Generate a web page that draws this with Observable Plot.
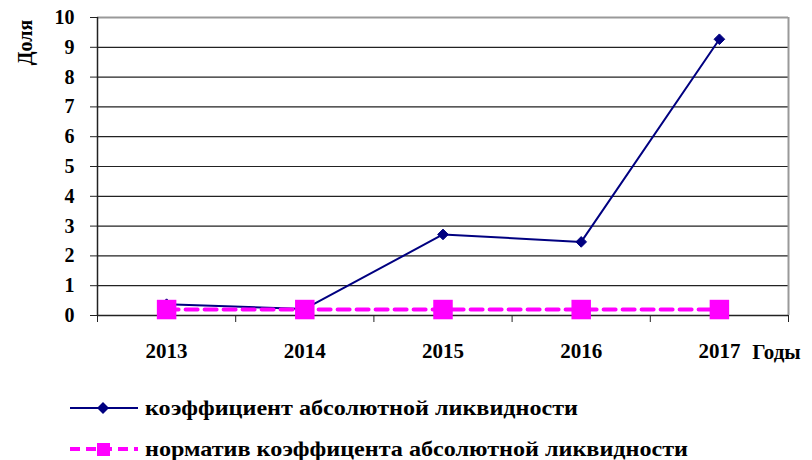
<!DOCTYPE html>
<html>
<head>
<meta charset="utf-8">
<script src="https://cdn.jsdelivr.net/npm/d3@7"></script>
<script src="https://cdn.jsdelivr.net/npm/@observablehq/plot@0.6"></script>
<style>
  html, body { margin: 0; padding: 0; background: #fff; }
  body { position: relative; width: 812px; height: 460px; overflow: hidden; font-family: "Times New Roman", Times, "Liberation Serif", "DejaVu Serif", "Noto Serif", serif; }
  #chart { position: absolute; left: 0; top: 0; }
  .leg { position: absolute; left: 70px; height: 28px; display: flex; align-items: center; font-weight: bold; font-size: 22px; line-height: 22px; white-space: nowrap; color: #000; }
  .leg svg { margin-right: 7px; flex: none; }
  .leg span { display: inline-block; transform-origin: left center; }
</style>
</head>
<body>
<div id="chart"></div>
<div class="leg" id="leg1" style="top:394px"></div>
<div class="leg" id="leg2" style="top:435px"></div>
<script>
const years = ["2013", "2014", "2015", "2016", "2017"];
const coefValues = [0.38, 0.22, 2.72, 2.47, 9.27];
const normValues = [0.2, 0.2, 0.2, 0.2, 0.2];
const yTicks = [0, 1, 2, 3, 4, 5, 6, 7, 8, 9, 10];
const seriesNames = ["коэффициент абсолютной ликвидности", "норматив коэффицента абсолютной ликвидности"];
const yLabel = "Доля";
const xLabel = "Годы";

const coefData = years.map((y, i) => ({i: i + 0.5, year: y, v: coefValues[i]}));
const normData = years.map((y, i) => ({i: i + 0.5, year: y, v: normValues[i]}));
const boundaries = d3.range(0, years.length + 1);
const centers = years.map((y, i) => i + 0.5);

const navy = "#000080";
const magenta = "#ff00ff";
const serif = "'Times New Roman', Times, 'Liberation Serif', 'DejaVu Serif', 'Noto Serif', serif";

const chart = Plot.plot({
  width: 812,
  height: 385,
  marginLeft: 97,
  marginRight: 24,
  marginTop: 17,
  marginBottom: 70,
  style: {fontFamily: serif, fontWeight: "bold", background: "#fff"},
  x: {type: "linear", domain: [0, years.length]},
  y: {type: "linear", domain: [0, 10]},
  marks: [
    Plot.ruleY(yTicks.filter(t => t > 0 && t < 10), {stroke: "#222", strokeWidth: 1.2}),
    Plot.ruleY([10], {stroke: "#999", strokeWidth: 2}),
    Plot.ruleX([years.length], {stroke: "#999", strokeWidth: 2}),
    Plot.ruleX([0], {stroke: "#222", strokeWidth: 1.5}),
    Plot.ruleY([0], {stroke: "#222", strokeWidth: 1.5}),
    Plot.axisY(yTicks, {tickSize: 7, tickPadding: 16, fontSize: 20, fontFamily: serif, label: null, stroke: "#222"}),
    Plot.axisX(boundaries, {tickSize: 7, tickFormat: () => "", label: null, stroke: "#222"}),
    Plot.axisX(centers, {tickSize: 0, tickPadding: 28, fontSize: 21, fontFamily: serif, label: null, tickFormat: d => years[Math.floor(d)]}),
    Plot.text([xLabel], {frameAnchor: "bottom-right", dx: -12, dy: 37, fontSize: 21, fontWeight: "bold", fontFamily: serif, textAnchor: "middle", lineAnchor: "middle"}),
    Plot.text([yLabel], {frameAnchor: "top-left", dx: -72, dy: 25, rotate: -90, fontSize: 20, fontWeight: "bold", fontFamily: serif, textAnchor: "middle", lineAnchor: "middle"}),
    Plot.line(coefData, {x: "i", y: "v", stroke: navy, strokeWidth: 2}),
    Plot.dot(coefData, {x: "i", y: "v", symbol: "diamond2", r: 4.8, fill: navy, stroke: navy, strokeWidth: 1}),
    Plot.line(normData, {x: "i", y: "v", stroke: magenta, strokeWidth: 4, strokeDasharray: "12,7"}),
    Plot.dot(normData, {x: "i", y: "v", symbol: "square", r: 11, fill: magenta, stroke: magenta, strokeWidth: 0})
  ]
});
document.getElementById("chart").appendChild(chart);

// legend
const leg1 = document.getElementById("leg1");
leg1.innerHTML = `<svg width="68" height="28"><line x1="0" x2="68" y1="14" y2="14" stroke="${navy}" stroke-width="2"/><path d="M33 8 L39 14 L33 20 L27 14 Z" fill="${navy}"/></svg><span>${seriesNames[0]}</span>`;
const leg2 = document.getElementById("leg2");
leg2.innerHTML = `<svg width="68" height="28"><line x1="0" x2="68" y1="14" y2="14" stroke="${magenta}" stroke-width="4" stroke-dasharray="10,6"/><rect x="27" y="8" width="13" height="13" fill="${magenta}"/></svg><span>${seriesNames[1]}</span>`;
// fit legend text widths to the reference
const targets = [433, 543];
[leg1, leg2].forEach((el, k) => {
  const sp = el.querySelector("span");
  const w = sp.getBoundingClientRect().width;
  sp.style.transform = `scaleX(${targets[k] / w})`;
});
</script>
</body>
</html>
